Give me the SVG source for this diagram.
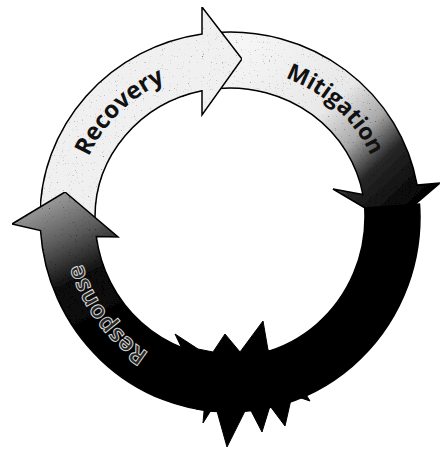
<svg xmlns="http://www.w3.org/2000/svg" width="440" height="450" viewBox="0 0 440 450">
  <style>
    .band { stroke: #000; stroke-width: 1.5; stroke-linejoin: miter; }
    .label { font-family: "Open Sans", "Liberation Sans", sans-serif; font-weight: bold; font-size: 24px; fill: #111; }
    .dark-label { fill: #262626; stroke: #e2e2e2; stroke-width: 0.9; }
  </style>
  <defs>
    <linearGradient id="gMit" gradientUnits="userSpaceOnUse" x1="240" y1="40" x2="410" y2="215">
      <stop offset="0" stop-color="#f6f6f6"/>
      <stop offset="0.45" stop-color="#e8e8e8"/>
      <stop offset="0.62" stop-color="#a8a8a8"/>
      <stop offset="0.76" stop-color="#262626"/>
      <stop offset="1" stop-color="#000"/>
    </linearGradient>
    <linearGradient id="gResp" gradientUnits="userSpaceOnUse" x1="125" y1="330" x2="60" y2="195">
      <stop offset="0" stop-color="#000"/>
      <stop offset="0.45" stop-color="#101010"/>
      <stop offset="0.72" stop-color="#5a5a5a"/>
      <stop offset="1" stop-color="#9a9a9a"/>
    </linearGradient>
    <filter id="grain" x="0" y="0" width="100%" height="100%">
      <feTurbulence type="fractalNoise" baseFrequency="0.85" numOctaves="1" seed="4" result="noise"/>
      <feColorMatrix in="noise" type="matrix" values="0 0 0 0 0  0 0 0 0 0  0 0 0 0 0  5 0 0 0 -3.35" result="dots"/>
      <feComposite in="dots" in2="SourceGraphic" operator="in" result="clipped"/>
      <feMerge>
        <feMergeNode in="SourceGraphic"/>
        <feMergeNode in="clipped"/>
      </feMerge>
    </filter>
    <path id="pRec" d="M 75.5 217 A 154.5 149 0 0 1 230 68"/>
    <path id="pMit" d="M 230 68 A 154.5 149 0 0 1 384.5 217"/>
    <path id="pResp" d="M 230 376.5 A 154.5 159.5 0 0 1 75.5 217"/>
  </defs>

  <g id="mitigation">
    <path class="band" fill="url(#gMit)" filter="url(#grain)" d="M 213.4 32.7 A 190 185 0 0 1 417.1 184.9 L 440 183 L 392 224 L 333 189 L 362.9 194.6 A 135 129 0 0 0 218.2 88.5 Z"/>
    <text class="label" font-size="23"><textPath href="#pMit" startOffset="48.6%" text-anchor="middle" font-size="23">Mitigation</textPath></text>
  </g>

  <g id="recovery">
    <path class="band" fill="#f0f0f0" filter="url(#grain)" d="M 40.1 223.8 A 190 195 0 0 1 40 217 A 190 185 0 0 1 202 34 L 202 7 L 242 59 L 202 115 L 202 90.8 A 135 129 0 0 0 95 217 A 135 140 0 0 0 95.1 221.9 Z"/>
    <text class="label"><textPath href="#pRec" startOffset="49%" text-anchor="middle">Recovery</textPath></text>
  </g>

  <g id="preparedness">
    <path class="band" fill="#000" d="M 419.5 204.1 A 190 185 0 0 1 420 217 A 190 195 0 0 1 197 409 L 206.6 354.9 A 135 140 0 0 0 365 217 A 135 129 0 0 0 364.7 208 Z"/>
  </g>

  <g id="response">
    <path class="band" fill="url(#gResp)" filter="url(#grain)" d="M 230 412 A 190 195 0 0 1 40.5 230.6 L 12 224 L 65 192 L 118 237 L 96.3 236.5 A 135 140 0 0 0 230 357 Z"/>
    <text class="label dark-label"><textPath href="#pResp" startOffset="57.8%" text-anchor="middle">Response</textPath></text>
  </g>

  <g id="disaster">
    <polygon fill="#000" stroke="#000" stroke-width="1" points="185,355 175,334 198,349 213,352 225,334 240,352 263,321 268,350 290,360 300,385 310,401 292,395 285,426 270,406 262,432 248,405 227,447 215,404 203,423 205,400 190,395"/>
  </g>
</svg>
